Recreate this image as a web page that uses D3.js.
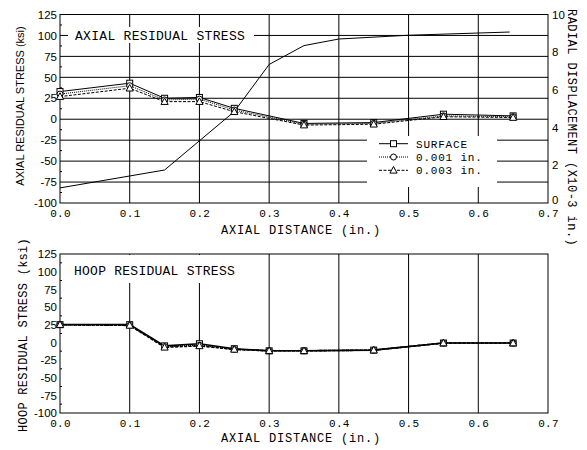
<!DOCTYPE html>
<html>
<head>
<meta charset="utf-8">
<script src="https://cdn.jsdelivr.net/npm/d3@7/dist/d3.min.js"></script>
<style>
  html, body { margin: 0; padding: 0; background: #fff; }
  svg { display: block; }
</style>
</head>
<body>
<svg id="chart" width="587" height="450"></svg>
<script>
// ---- data ----------------------------------------------------------------
const xTickValues = [0, 0.1, 0.2, 0.3, 0.4, 0.5, 0.6, 0.7];
const stressTicks = [125, 100, 75, 50, 25, 0, -25, -50, -75, -100];
const dispTicks = [0, 2, 4, 6, 8, 10];

// axial residual stress (ksi) vs axial distance (in.)
const axialX = [0, 0.1, 0.15, 0.2, 0.25, 0.35, 0.45, 0.55, 0.65];
const axialSurface = [33, 43, 25, 26, 13, -5, -4, 6, 4];
const axial001 = [30, 40, 23, 24, 11, -6, -5, 4, 3];
const axial003 = [27, 37, 21, 21, 9, -7, -6, 3, 2];

// radial displacement (x10-3 in.)
const radialX = [0, 0.15, 0.25, 0.3, 0.35, 0.4, 0.5, 0.645];
const radialDisp = [0.8, 1.75, 4.85, 7.35, 8.35, 8.7, 8.9, 9.07];

// hoop residual stress (ksi)
const hoopX = [0, 0.1, 0.15, 0.2, 0.25, 0.3, 0.35, 0.45, 0.55, 0.65];
const hoopSurface = [25, 25, -5, -2, -9, -12, -12, -11, -1, -1];
const hoop001 = [25, 24, -6, -4, -10, -12, -12, -11, -1, -1];
const hoop003 = [25, 24, -7, -5, -10, -12, -12, -11, -1, -1];

const seriesNames = ["SURFACE", "0.001 in.", "0.003 in."];

// ---- styles --------------------------------------------------------------
const MONO = "'Liberation Mono', 'DejaVu Sans Mono', monospace";
const SANS = "'Liberation Sans', Arial, sans-serif";
const seriesStyle = [
  { dash: null, marker: "square" },
  { dash: "1,1", marker: "circle" },
  { dash: "3,1.5", marker: "triangle" }
];

const svg = d3.select("#chart");
svg.append("rect").attr("width", 587).attr("height", 450).attr("fill", "#fff");

const X0 = 60, X1 = 548;
const x = d3.scaleLinear().domain([0, 0.7]).range([X0, X1]);

function drawMarker(g, type, cx, cy) {
  if (type === "square") {
    g.append("rect").attr("x", cx - 3).attr("y", cy - 3).attr("width", 6).attr("height", 6)
      .attr("fill", "#fff").attr("stroke", "#000").attr("stroke-width", 1);
  } else if (type === "circle") {
    g.append("circle").attr("cx", cx).attr("cy", cy).attr("r", 3)
      .attr("fill", "#fff").attr("stroke", "#000").attr("stroke-width", 1);
  } else {
    g.append("path")
      .attr("d", `M${cx},${cy - 3.8}L${cx + 3.6},${cy + 2.8}L${cx - 3.6},${cy + 2.8}Z`)
      .attr("fill", "#fff").attr("stroke", "#000").attr("stroke-width", 1);
  }
}

function drawSeries(g, xs, ys, yScale, style, width) {
  const pts = xs.map((d, i) => [d, ys[i]]);
  const line = d3.line().x(d => x(d[0])).y(d => yScale(d[1]));
  g.append("path").attr("d", line(pts)).attr("fill", "none")
    .attr("stroke", "#000").attr("stroke-width", width)
    .attr("stroke-dasharray", style.dash);
  return pts;
}

function xAxis(g, y0, labelBaseline, titleBaseline) {
  const ax = d3.axisBottom(x).tickValues(xTickValues)
    .tickFormat(d3.format(".1f")).tickSize(0).tickPadding(0);
  const a = g.append("g").attr("transform", `translate(0,${y0})`).call(ax);
  a.select(".domain").remove();
  a.selectAll("text")
    .attr("dy", null).attr("y", labelBaseline - y0)
    .style("font-family", MONO).style("font-size", "11px")
    .style("letter-spacing", "0.3px").attr("fill", "#000");
  g.append("text").attr("x", 301).attr("y", titleBaseline)
    .attr("text-anchor", "middle")
    .style("font-family", MONO).style("font-size", "12px").style("letter-spacing", "0.8px")
    .text("AXIAL DISTANCE (in.)");
}

function stressAxis(g, yScale) {
  const ax = d3.axisLeft(yScale).tickValues(stressTicks).tickSize(0).tickPadding(3);
  const a = g.append("g").attr("transform", `translate(${X0},0)`).call(ax);
  a.select(".domain").remove();
  a.selectAll("text").style("font-family", SANS).style("font-size", "11.5px")
    .attr("fill", "#000").text(d => String(d));
  // minor ticks on the left spine
  const minor = d3.range(-100, 126, 12.5).filter(v => v % 25 !== 0);
  g.append("g").selectAll("line").data(minor).join("line")
    .attr("x1", X0).attr("x2", X0 + 2)
    .attr("y1", d => yScale(d)).attr("y2", d => yScale(d))
    .attr("stroke", "#000").attr("stroke-width", 1);
}

// ---- upper panel: axial residual stress + radial displacement ----------
const topY0 = 203, topY1 = 14.5;
const yTop = d3.scaleLinear().domain([-100, 125]).range([topY0, topY1]);
const yDisp = d3.scaleLinear().domain([0, 10]).range([topY0, topY1]);
const upper = svg.append("g");

// grid
upper.append("g").selectAll("line").data(stressTicks.filter(v => v > -100 && v < 125)).join("line")
  .attr("x1", X0).attr("x2", X1).attr("y1", d => yTop(d)).attr("y2", d => yTop(d))
  .attr("stroke", "#000").attr("stroke-width", 1);
upper.append("g").selectAll("line").data(xTickValues.filter(v => v > 0 && v < 0.7)).join("line")
  .attr("x1", d => x(d)).attr("x2", d => x(d)).attr("y1", topY1).attr("y2", topY0)
  .attr("stroke", "#000").attr("stroke-width", 1);

// panel title on a white patch
upper.append("rect").attr("x", 68).attr("y", 27).attr("width", 186).attr("height", 16).attr("fill", "#fff");
upper.append("text").attr("x", 75).attr("y", 39.5)
  .style("font-family", MONO).style("font-size", "13px").style("letter-spacing", "0.3px")
  .text("AXIAL RESIDUAL STRESS");

// legend patch
upper.append("rect").attr("x", 367).attr("y", 136).attr("width", 130).attr("height", 51).attr("fill", "#fff");

// frame
upper.append("rect").attr("x", X0).attr("y", topY1).attr("width", X1 - X0).attr("height", topY0 - topY1)
  .attr("fill", "none").attr("stroke", "#000").attr("stroke-width", 1);

// radial displacement curve (right axis)
upper.append("path")
  .attr("d", d3.line().x(d => x(d[0])).y(d => yDisp(d[1]))(radialX.map((d, i) => [d, radialDisp[i]])))
  .attr("fill", "none").attr("stroke", "#000").attr("stroke-width", 1);

// stress series
const axialData = [axialSurface, axial001, axial003];
axialData.forEach((ys, k) => drawSeries(upper, axialX, ys, yTop, seriesStyle[k], 1));
axialData.forEach((ys, k) => {
  axialX.forEach((d, i) => drawMarker(upper, seriesStyle[k].marker, x(d), yTop(ys[i])));
});

// legend entries
seriesNames.forEach((name, k) => {
  const cy = 143.7 + k * 13.3;
  upper.append("line").attr("x1", 379).attr("x2", 408).attr("y1", cy).attr("y2", cy)
    .attr("stroke", "#000").attr("stroke-width", 1).attr("stroke-dasharray", seriesStyle[k].dash);
  drawMarker(upper, seriesStyle[k].marker, 393.5, cy);
  upper.append("text").attr("x", 416).attr("y", cy + 3.8)
    .style("font-family", MONO).style("font-size", "11px").style("letter-spacing", "0.8px")
    .text(name);
});

stressAxis(upper, yTop);
const ra = upper.append("g").attr("transform", `translate(${X1},0)`)
  .call(d3.axisRight(yDisp).tickValues(dispTicks).tickSize(0).tickPadding(4));
ra.select(".domain").remove();
ra.selectAll("text").style("font-family", SANS).style("font-size", "11.5px").attr("fill", "#000");
// lift the bottom label clear of the 0.7 tick label below it
ra.selectAll(".tick").filter(d => d === 0).select("text").attr("y", -3);

xAxis(upper, topY0, 216.5, 234);

upper.append("text").attr("transform", "translate(24,106) rotate(-90)")
  .attr("text-anchor", "middle")
  .style("font-family", SANS).style("font-size", "11px")
  .text("AXIAL RESIDUAL STRESS (ksi)");
upper.append("text").attr("transform", "translate(568,9) rotate(90)")
  .style("font-family", MONO).style("font-size", "12px").style("letter-spacing", "0.45px")
  .text("RADIAL DISPLACEMENT (X10-3 in.)");

// ---- lower panel: hoop residual stress ----------------------------------
const botY0 = 413, botY1 = 254;
const yBot = d3.scaleLinear().domain([-100, 125]).range([botY0, botY1]);
const lower = svg.append("g");

lower.append("g").selectAll("line").data(xTickValues.filter(v => v > 0 && v < 0.7)).join("line")
  .attr("x1", d => x(d)).attr("x2", d => x(d)).attr("y1", botY1).attr("y2", botY0)
  .attr("stroke", "#000").attr("stroke-width", 1);

lower.append("rect").attr("x", 61).attr("y", 255).attr("width", 180).attr("height", 28).attr("fill", "#fff");
lower.append("text").attr("x", 74).attr("y", 275)
  .style("font-family", MONO).style("font-size", "13px").style("letter-spacing", "0.25px")
  .text("HOOP RESIDUAL STRESS");

lower.append("rect").attr("x", X0).attr("y", botY1).attr("width", X1 - X0).attr("height", botY0 - botY1)
  .attr("fill", "none").attr("stroke", "#000").attr("stroke-width", 1);

const hoopData = [hoopSurface, hoop001, hoop003];
hoopData.forEach((ys, k) => drawSeries(lower, hoopX, ys, yBot, seriesStyle[k], 1.6));
hoopData.forEach((ys, k) => {
  hoopX.forEach((d, i) => drawMarker(lower, seriesStyle[k].marker, x(d), yBot(ys[i])));
});

stressAxis(lower, yBot);
xAxis(lower, botY0, 426.5, 441.5);

lower.append("text").attr("transform", "translate(26.5,335) rotate(-90)")
  .attr("text-anchor", "middle")
  .style("font-family", MONO).style("font-size", "12px").style("letter-spacing", "0.26px")
  .text("HOOP RESIDUAL STRESS (ksi)");
</script>
</body>
</html>
